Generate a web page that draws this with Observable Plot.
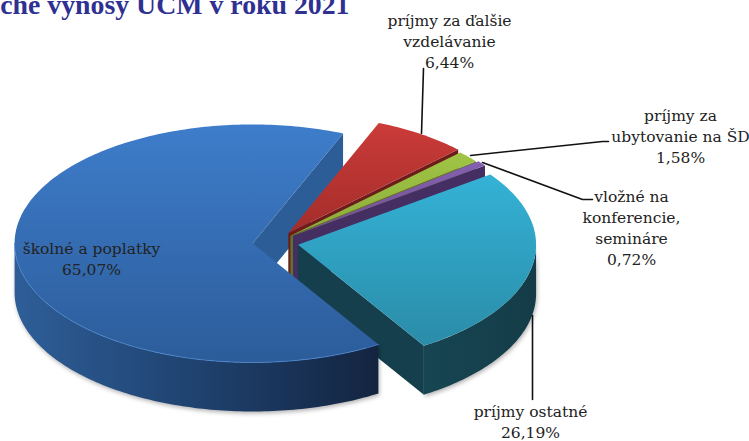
<!DOCTYPE html>
<html><head><meta charset="utf-8">
<script src="https://cdn.jsdelivr.net/npm/d3@7"></script>
<script src="https://cdn.jsdelivr.net/npm/@observablehq/plot@0.6"></script>
<style>html,body{margin:0;padding:0;background:#fff}svg{display:block}</style>
</head><body><div id="chart"></div>
<script>
const categories = ["školné a poplatky","príjmy za ďalšie vzdelávanie","príjmy za ubytovanie na ŠD","vložné na konferencie, semináre","príjmy ostatné"];
const shares = [65.07, 6.44, 1.58, 0.72, 26.19];
const shareLabels = ["65,07%","6,44%","1,58%","0,72%","26,19%"];
const explode = [23, 23, 20, 22, 23];
const titleText = "che výnosy UCM v roku 2021";

const W = 749, H = 441, CX = 275, CY = 242, RX = 238, RY = 119, DEPTH = 49, START = 58.09;
const rad = d => d * Math.PI / 180;
const ends = d3.cumsum(shares).map(v => START + v * 3.6);
const slices = shares.map((s, i) => {
  const a0 = i ? ends[i - 1] : START, a1 = ends[i], mid = rad((a0 + a1) / 2);
  return {a0, a1, ax: CX + explode[i] * Math.cos(mid), ay: CY + explode[i] * 0.5 * Math.sin(mid)};
});
const arc = (s, from, to, dy = 0) => d3.range(0, 1.0001, 1 / Math.max(2, Math.ceil(Math.abs(to - from)))).map(t => {
  const a = rad(from + (to - from) * t);
  return {x: s.ax + RX * Math.cos(a), y: s.ay + RY * Math.sin(a) + dy};
});
const topFace = s => [{x: s.ax, y: s.ay}, ...arc(s, s.a0, s.a1)];
const ribbon = (s, from, to) => [...arc(s, from, to), ...arc(s, to, from, DEPTH)];
const edge = (s, a) => {
  const [p] = arc(s, a, a + 1);
  return [{x: s.ax, y: s.ay}, {x: p.x, y: p.y}, {x: p.x, y: p.y + DEPTH}, {x: s.ax, y: s.ay + DEPTH}];
};

const gradients = [
  ["gBlue", 0, 1, ["#3e7dcb", "#2c5c9a"]],
  ["gRed", 0, 1, ["#cb3b39", "#a32d2a"]],
  ["gGreen", 0, 1, ["#a0c545", "#8bab3a"]],
  ["gPurple", 0, 1, ["#8560b0", "#6f4e96"]],
  ["gCyan", 0, 1, ["#34b2d6", "#2a8ca8"]],
  ["gBlueWall", 1, 0, ["#2e5e98", "#1f426f", "#132440"]],
  ["gCyanWall", 1, 0, ["#174552", "#143c48"]]
];
const defs = () => {
  const d = d3.create("svg:defs");
  for (const [id, h, v, stops] of gradients) {
    const g = d.append("linearGradient").attr("id", id)
      .attr("x1", 0).attr("y1", 0).attr("x2", h).attr("y2", v);
    stops.forEach((c, k) => g.append("stop").attr("offset", k / (stops.length - 1)).attr("stop-color", c));
  }
  return d.node();
};
const poly = (pts, fill, extra = {}) => Plot.line(pts, {x: "x", y: "y", fill, stroke: "none", ...extra});
const shadow = {imageFilter: "drop-shadow(1px 2px 2px rgba(0,0,0,.3))"};

const [blue, red, green, purple, cyan] = slices;

const labels = [
  {t: `príjmy za ďalšie\nvzdelávanie\n${shareLabels[1]}`, x: 449, y: 39.5},
  {t: `príjmy za\nubytovanie na ŠD\n${shareLabels[2]}`, x: 680, y: 135},
  {t: `vložné na\nkonferencie,\nsemináre\n${shareLabels[3]}`, x: 631, y: 226},
  {t: `${categories[4]}\n${shareLabels[4]}`, x: 530, y: 420},
  {t: `${categories[0]}\n${shareLabels[0]}`, x: 91, y: 257}
];
const leaders = [
  [[423, 68], [421, 133]],
  [[608, 141], [602, 141], [470, 155]],
  [[592, 199], [582, 199], [482, 162]],
  [[532, 315], [532, 399]]
];

const chart = Plot.plot({
  width: W, height: H, margin: 0,
  x: {domain: [0, W], range: [0, W], axis: null},
  y: {domain: [0, H], range: [0, H], axis: null},
  marks: [
    defs,
    poly(edge(blue, blue.a1), "#2c5d96"),
    poly(edge(red, red.a1), "#6d1c1a"),
    poly(topFace(red), "url(#gRed)"),
    poly(edge(green, green.a1), "#5f7628"),
    poly(topFace(green), "url(#gGreen)"),
    poly(edge(purple, purple.a1), "#452f62"),
    poly(topFace(purple), "url(#gPurple)"),
    poly(ribbon(cyan, 360, cyan.a1), "url(#gCyanWall)", shadow),
    poly(edge(cyan, cyan.a1), "#153f4c"),
    poly(topFace(cyan), "url(#gCyan)"),
    poly(ribbon(blue, blue.a0, 180), "url(#gBlueWall)", shadow),
    poly(topFace(blue), "url(#gBlue)"),
    Plot.line(arc(blue, blue.a0, 180), {x: "x", y: "y", stroke: "#4a86cf", strokeWidth: 0.8}),
    ...leaders.map(l => Plot.line(l, {x: d => d[0], y: d => d[1], stroke: "#111", strokeWidth: 1.6})),
    Plot.text(labels, {x: "x", y: "y", text: "t", fontFamily: "DejaVu Serif", fontSize: 15.5, lineHeight: 1.36, fill: "#222", textAnchor: "middle", lineAnchor: "middle"}),
    Plot.text([titleText], {x: () => 349, y: () => 13, text: d => d, textAnchor: "end", lineAnchor: "bottom", fontFamily: "Liberation Serif", fontWeight: "bold", fontSize: 27.8, fill: "#2f3192"})
  ]
});
document.getElementById("chart").append(chart);
</script></body></html>
